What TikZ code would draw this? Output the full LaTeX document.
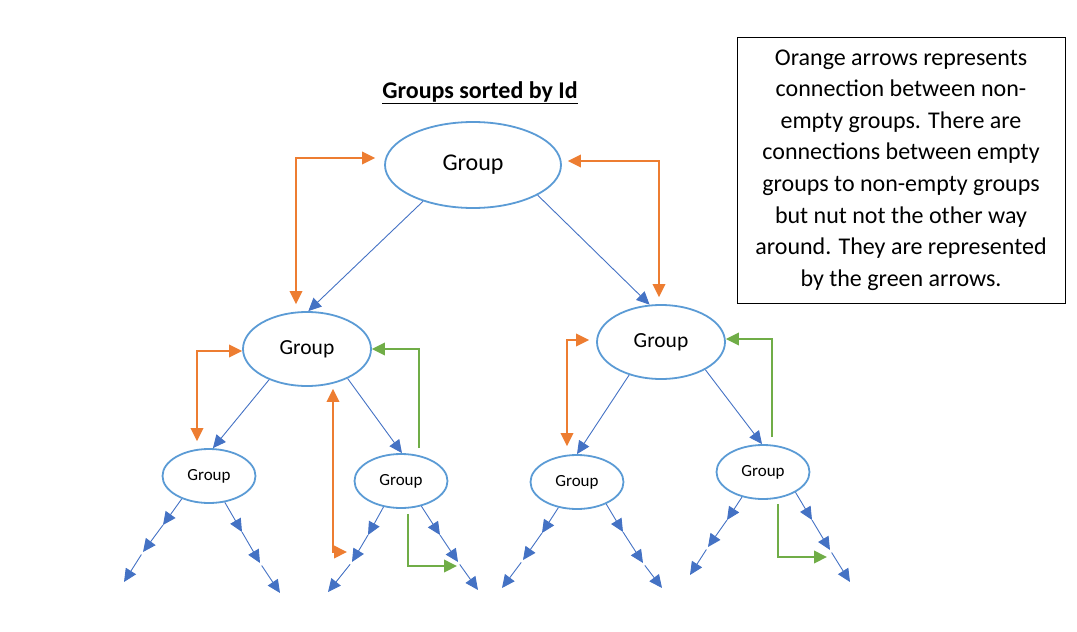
\documentclass[tikz,border=0pt]{standalone}
\usepackage{fontspec}
\setmainfont{Carlito}
\usetikzlibrary{arrows.meta,shapes.geometric,calc}
\definecolor{ell}{HTML}{5B9BD5}
\definecolor{conn}{HTML}{4472C4}
\definecolor{orng}{HTML}{ED7D31}
\definecolor{grn}{HTML}{70AD47}
\begin{document}
\begin{tikzpicture}[x=1pt,y=-1pt,
  grp/.style={ellipse, draw=ell, line width=1.8pt, inner sep=0pt},
  big/.style={grp, minimum width=176pt, minimum height=86pt, font=\fontsize{24}{28}\selectfont},
  mid/.style={grp, minimum width=128pt, minimum height=74pt, font=\fontsize{21.5}{25}\selectfont},
  small/.style={grp, minimum width=93pt, minimum height=54pt, font=\fontsize{17}{20}\selectfont},
  tree/.style={draw=conn, line width=0.9pt, -{Triangle[length=13pt,width=12pt]}},
  oarr/.style={draw=orng, line width=2pt, {Triangle[length=13pt,width=12.5pt]}-{Triangle[length=13pt,width=12.5pt]}},
  garr/.style={draw=grn, line width=2pt, -{Triangle[length=13pt,width=12.5pt]}},
]
\useasboundingbox (0,0) rectangle (1077,632);

% title
\node[anchor=base, font=\fontsize{24}{28}\selectfont\bfseries] (title) at (480,98) {\underline{Groups sorted by Id}};

% note
\node[draw, line width=0.9pt, minimum width=328pt, minimum height=266pt, align=center, inner sep=0pt,
      font=\fontsize{24}{31.6}\selectfont] (note) at (901,170)
  {Orange arrows represents\\connection between non-\\empty groups. There are\\connections between empty\\groups to non-empty groups\\but nut not the other way\\around. They are represented\\by the green arrows.};

% groups
\node[big] (top) at (473,165) {Group};
\node[mid] (ml) at (307,349) {Group};
\node[mid] (mr) at (661,342) {Group};
\node[small] (bl) at (209,476) {Group};
\node[small] (bml) at (401,481) {Group};
\node[small] (bmr) at (577,482) {Group};
\node[small] (br) at (763,472) {Group};

% tree connectors
\draw[tree] (top.216) -- (ml.88);
\draw[tree] (top.335) -- (mr.107);
\draw[tree] (ml.219) -- (bl.82);
\draw[tree] (ml.324) -- (bml.88);
\draw[tree] (mr.226) -- (bmr.90);
\draw[tree] (mr.328) -- (br.92);

% lower continuation arrows
\coordinate (bla1) at (163,525); \coordinate (bla2) at (143,552); \coordinate (bla3) at (124,582);
\coordinate (blb1) at (242,532); \coordinate (blb2) at (260,563); \coordinate (blb3) at (280,593);
\coordinate (bmla1) at (368,535); \coordinate (bmla2) at (352,562); \coordinate (bmla3) at (328,592);
\coordinate (bmlb1) at (440,535); \coordinate (bmlb2) at (458,562); \coordinate (bmlb3) at (478,590);
\coordinate (bmra1) at (542,533); \coordinate (bmra2) at (523,560); \coordinate (bmra3) at (502,588);
\coordinate (bmrb1) at (623,532); \coordinate (bmrb2) at (643,563); \coordinate (bmrb3) at (662,588);
\coordinate (bra1) at (727,520); \coordinate (bra2) at (708,547); \coordinate (bra3) at (690,575);
\coordinate (brb1) at (812,520); \coordinate (brb2) at (830,550); \coordinate (brb3) at (850,582);
\foreach \n/\s/\a in {bl/a/220, bl/b/301, bml/a/236, bml/b/309, bmr/a/234, bmr/b/323, br/a/230, br/b/328} {
  \draw[tree] (\n.\a) -- (\n\s1);
  \draw[tree] (\n\s1) -- (\n\s2);
  \draw[tree, shorten <=3pt] (\n\s2) -- (\n\s3);
}

% orange connections
\coordinate (o1) at (296,158);
\draw[oarr, shorten <=9pt, shorten >=7pt] (top.west |- o1) -- (o1) -- (o1 |- ml.north);
\coordinate (o2) at (659,161);
\draw[oarr, shorten <=6pt, shorten >=7pt] (top.east |- o2) -- (o2) -- (o2 |- mr.north);
\coordinate (o3) at (197,351);
\draw[oarr, shorten >=7pt] (ml.west |- o3) -- (o3) -- (o3 |- bl.north);
\coordinate (o4) at (567,340);
\draw[oarr, shorten <=7pt, shorten >=8pt] (mr.west |- o4) -- (o4) -- (o4 |- bmr.north);
\coordinate (o5) at (333,552);
\coordinate (o5e) at (347,552);
\draw[oarr, shorten <=2pt] (o5 |- ml.south) -- (o5) -- (o5e);

% green connections
\coordinate (g1) at (419,349);
\draw[garr, shorten <=5pt] (g1 |- bml.north) -- (g1) -- (g1 -| ml.east);
\coordinate (g2) at (772,339);
\draw[garr, shorten <=7pt] (g2 |- br.north) -- (g2) -- (g2 -| mr.east);
\coordinate (g3) at (408,566);
\coordinate (g3e) at (457,566);
\draw[garr, shorten <=5pt] (g3 |- bml.south) -- (g3) -- (g3e);
\coordinate (g4) at (778,557);
\coordinate (g4e) at (827,557);
\draw[garr, shorten <=4pt] (g4 |- br.south) -- (g4) -- (g4e);
\end{tikzpicture}
\end{document}
